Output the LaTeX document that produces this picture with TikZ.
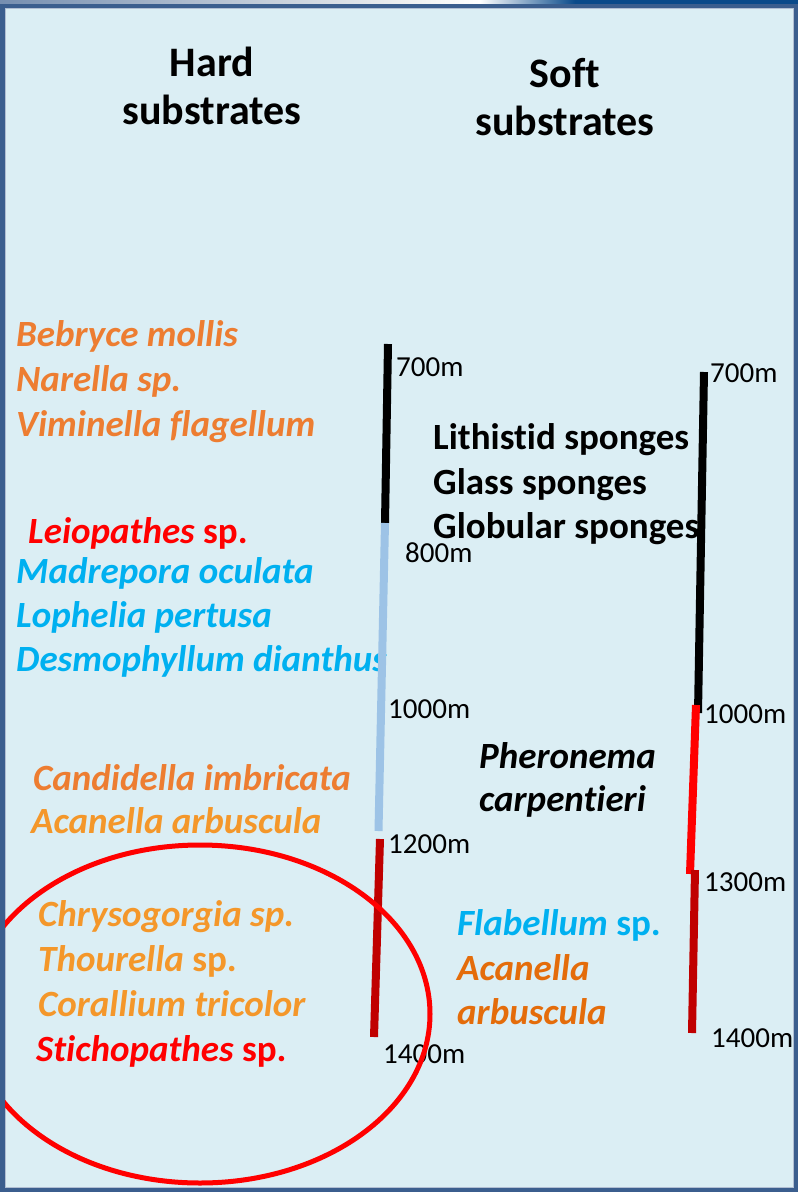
\documentclass[tikz,border=0pt]{standalone}
\usepackage{fontspec}
\setmainfont[Ligatures=NoCommon]{Carlito}
\definecolor{bgc}{HTML}{DBEEF4}
\definecolor{framec}{HTML}{3B5E8E}
\definecolor{framehi}{HTML}{0A4A8A}
\definecolor{orA}{HTML}{ED7D31}
\definecolor{orB}{HTML}{F4972A}
\definecolor{orC}{HTML}{E46C0A}
\definecolor{cyT}{HTML}{00B0F0}
\definecolor{rdT}{HTML}{FF0000}
\definecolor{lbL}{HTML}{9DC3E6}
\definecolor{drL}{HTML}{C00000}
\newcommand\mySpFont{\fontsize{37}{44}\selectfont\bfseries\itshape}
\newcommand\myHdFont{\fontsize{42}{50}\selectfont\bfseries}
\newcommand\myDpFont{\fontsize{29}{35}\selectfont}
\tikzset{
  species/.style={anchor=base west, inner sep=0pt, font=\mySpFont},
  header/.style={anchor=base, inner sep=0pt, font=\myHdFont},
  depth/.style={anchor=base west, inner sep=0pt, font=\myDpFont, text=black},
  zone/.style={line width=8pt},
}
\begin{document}
\begin{tikzpicture}[x=1pt,y=-1pt]
\useasboundingbox (0,0) rectangle (798,1192);
% frame
\fill[framec] (0,0) rectangle (798,1192);
\shade[left color=framec!70!white, right color=white!90!gray] (0,0) rectangle (420,3.5);
\shade[left color=white!90!gray, right color=white] (420,0) rectangle (480,3.5);
\shade[left color=white, right color=framehi] (480,0) rectangle (575,3.5);
\fill[framehi] (575,0) rectangle (798,3.5);
\fill[bgc] (5,8) rectangle (794,1188);
\draw[framec!40!white, line width=0.8pt] (5.4,8.4) rectangle (793.6,1187.6);

% headers
\node[header] (hard1) at (212,76) {Hard};
\node[header] (hard2) at (212,124) {substrates};
\node[header] (soft1) at (565,87) {Soft};
\node[header] (soft2) at (565,135) {substrates};

% left species
\node[species, text=orA] (s1) at (16,346) {Bebryce mollis};
\node[species, text=orA] (s2) at (16,391) {Narella sp.};
\node[species, text=orA] (s3) at (16,436) {Viminella flagellum};
\node[species, text=rdT] (s4) at (28,543) {Leiopathes\upshape{} sp.};
\node[species, text=cyT] (s5) at (16,583) {Madrepora oculata};
\node[species, text=cyT] (s6) at (16,627) {Lophelia pertusa};
\node[species, text=cyT] (s7) at (16,671) {Desmophyllum dianthus};
\node[species, text=orA] (s8) at (33,790) {Candidella imbricata};
\node[species, text=orB] (s9) at (31,833) {Acanella arbuscula};
\node[species, text=orB] (s10) at (38,926) {Chrysogorgia sp.};
\node[species, text=orB] (s11) at (38,971) {Thourella\upshape{} sp.};
\node[species, text=orB] (s12) at (38,1016) {Corallium tricolor};
\node[species, text=rdT] (s13) at (36,1061) {Stichopathes\upshape{} sp.};

% middle texts
\node[species, text=black] (m1) at (433,449) {\upshape Lithistid sponges};
\node[species, text=black] (m2) at (433,494) {\upshape Glass sponges};
\node[species, text=black] (m3) at (433,538) {\upshape Globular sponges};
\node[species, text=black] (m4) at (479,768) {Pheronema};
\node[species, text=black] (m5) at (479,811) {carpentieri};
\node[species, text=cyT] (m6) at (457,935) {Flabellum\upshape{} sp.};
\node[species, text=orC] (m7) at (457,980) {Acanella};
\node[species, text=orC] (m8) at (457,1024) {arbuscula};

% left depth bar
\coordinate (a0) at (388,344);
\coordinate (a1) at (385,523);
\coordinate (a2) at (378.5,831);
\coordinate (a3) at (380,839);
\coordinate (a4) at (374,1037);
\draw[zone, black] (a0) -- (a1);
\draw[zone, lbL] (a1) -- (a2);
\draw[zone, drL] (a3) -- (a4);
\node[depth] (d1) at (396,376) {700m};
\node[depth] (d2) at (405,562) {800m};
\node[depth] (d3) at (388,718) {1000m};
\node[depth] (d4) at (388,853) {1200m};
\node[depth] (d5) at (383,1063) {1400m};

% right depth bar
\coordinate (b0) at (704,372);
\coordinate (b1) at (698,713);
\coordinate (b2) at (696,705);
\coordinate (b3) at (690,874);
\coordinate (b4) at (695,870);
\coordinate (b5) at (692,1033);
\draw[zone, black] (b0) -- (b1);
\draw[zone, rdT] (b2) -- (b3);
\draw[zone, drL] (b4) -- (b5);
\node[depth] (e1) at (710,382) {700m};
\node[depth] (e2) at (704,723) {1000m};
\node[depth] (e3) at (704,891) {1300m};
\node[depth] (e4) at (711,1047) {1400m};

% highlight ellipse
\begin{scope}
\clip (5,8) rectangle (794,1188);
\draw[rdT, line width=5pt] (200,1014) ellipse [x radius=230, y radius=169];
\end{scope}
\end{tikzpicture}
\end{document}
